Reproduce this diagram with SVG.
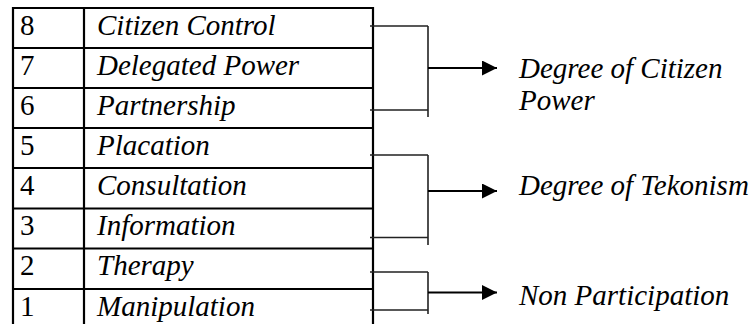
<svg xmlns="http://www.w3.org/2000/svg" width="756" height="324" viewBox="0 0 756 324">
<defs>
<marker id="ah" viewBox="0 0 10 10" refX="10" refY="5" markerWidth="15" markerHeight="15" markerUnits="userSpaceOnUse" orient="auto">
<path d="M0,0 L10,5 L0,10 Z" fill="#000"/>
</marker>
</defs>
<rect width="756" height="324" fill="#fff"/>
<g id="table" stroke="#000" stroke-width="2.2" fill="none">
<line x1="13" y1="7" x2="13" y2="324"/>
<line x1="84" y1="7" x2="84" y2="324"/>
<line x1="373" y1="7" x2="373" y2="324"/>
<line x1="12" y1="8" x2="374" y2="8"/>
<line x1="12" y1="48" x2="374" y2="48"/>
<line x1="12" y1="88" x2="374" y2="88"/>
<line x1="12" y1="128" x2="374" y2="128"/>
<line x1="12" y1="168" x2="374" y2="168"/>
<line x1="12" y1="208.5" x2="374" y2="208.5"/>
<line x1="12" y1="248.5" x2="374" y2="248.5"/>
<line x1="12" y1="289" x2="374" y2="289"/>
</g>
<g id="row8"><text style="font-family:Liberation Serif,Tinos,Times New Roman,serif" font-family="Liberation Serif, Tinos, Times New Roman, serif" font-size="29" x="20" y="35">8</text><text style="font-family:Liberation Serif,Tinos,Times New Roman,serif" font-family="Liberation Serif, Tinos, Times New Roman, serif" font-size="29" font-style="italic" x="97" y="35">Citizen Control</text></g>
<g id="row7"><text style="font-family:Liberation Serif,Tinos,Times New Roman,serif" font-family="Liberation Serif, Tinos, Times New Roman, serif" font-size="29" x="20" y="75">7</text><text style="font-family:Liberation Serif,Tinos,Times New Roman,serif" font-family="Liberation Serif, Tinos, Times New Roman, serif" font-size="29" font-style="italic" x="97" y="75">Delegated Power</text></g>
<g id="row6"><text style="font-family:Liberation Serif,Tinos,Times New Roman,serif" font-family="Liberation Serif, Tinos, Times New Roman, serif" font-size="29" x="20" y="115">6</text><text style="font-family:Liberation Serif,Tinos,Times New Roman,serif" font-family="Liberation Serif, Tinos, Times New Roman, serif" font-size="29" font-style="italic" x="97" y="115">Partnership</text></g>
<g id="row5"><text style="font-family:Liberation Serif,Tinos,Times New Roman,serif" font-family="Liberation Serif, Tinos, Times New Roman, serif" font-size="29" x="20" y="155">5</text><text style="font-family:Liberation Serif,Tinos,Times New Roman,serif" font-family="Liberation Serif, Tinos, Times New Roman, serif" font-size="29" font-style="italic" x="97" y="155">Placation</text></g>
<g id="row4"><text style="font-family:Liberation Serif,Tinos,Times New Roman,serif" font-family="Liberation Serif, Tinos, Times New Roman, serif" font-size="29" x="20" y="195">4</text><text style="font-family:Liberation Serif,Tinos,Times New Roman,serif" font-family="Liberation Serif, Tinos, Times New Roman, serif" font-size="29" font-style="italic" x="97" y="195">Consultation</text></g>
<g id="row3"><text style="font-family:Liberation Serif,Tinos,Times New Roman,serif" font-family="Liberation Serif, Tinos, Times New Roman, serif" font-size="29" x="20" y="235">3</text><text style="font-family:Liberation Serif,Tinos,Times New Roman,serif" font-family="Liberation Serif, Tinos, Times New Roman, serif" font-size="29" font-style="italic" x="97" y="235">Information</text></g>
<g id="row2"><text style="font-family:Liberation Serif,Tinos,Times New Roman,serif" font-family="Liberation Serif, Tinos, Times New Roman, serif" font-size="29" x="20" y="275">2</text><text style="font-family:Liberation Serif,Tinos,Times New Roman,serif" font-family="Liberation Serif, Tinos, Times New Roman, serif" font-size="29" font-style="italic" x="97" y="275">Therapy</text></g>
<g id="row1"><text style="font-family:Liberation Serif,Tinos,Times New Roman,serif" font-family="Liberation Serif, Tinos, Times New Roman, serif" font-size="29" x="20" y="316">1</text><text style="font-family:Liberation Serif,Tinos,Times New Roman,serif" font-family="Liberation Serif, Tinos, Times New Roman, serif" font-size="29" font-style="italic" x="97" y="316">Manipulation</text></g>
<g id="citizen-power"><text style="font-family:Liberation Serif,Tinos,Times New Roman,serif" font-family="Liberation Serif, Tinos, Times New Roman, serif" font-size="29" font-style="italic" x="519" y="78">Degree of Citizen</text><text style="font-family:Liberation Serif,Tinos,Times New Roman,serif" font-family="Liberation Serif, Tinos, Times New Roman, serif" font-size="29" font-style="italic" x="519" y="110">Power</text></g>
<g id="tokenism"><text style="font-family:Liberation Serif,Tinos,Times New Roman,serif" font-family="Liberation Serif, Tinos, Times New Roman, serif" font-size="29" font-style="italic" x="519" y="195">Degree of Tekonism</text></g>
<g id="non-participation"><text style="font-family:Liberation Serif,Tinos,Times New Roman,serif" font-family="Liberation Serif, Tinos, Times New Roman, serif" font-size="29" font-style="italic" x="519" y="305">Non Participation</text></g>
<g id="connectors">
<path stroke="#222" stroke-width="1.6" fill="none" d="M370,26 H428 M428,26 V117 M370,110 H428"/>
<path stroke="#222" stroke-width="1.6" fill="none" d="M370,155 H428 M428,155 V245 M370,237.5 H428"/>
<path stroke="#222" stroke-width="1.6" fill="none" d="M370,272 H428 M428,272 V314 M370,310 H428"/>
<line stroke="#000" stroke-width="2" x1="428" y1="68" x2="497" y2="68" marker-end="url(#ah)"/>
<line stroke="#000" stroke-width="2" x1="428" y1="191" x2="497" y2="191" marker-end="url(#ah)"/>
<line stroke="#000" stroke-width="2" x1="428" y1="292.5" x2="497" y2="292.5" marker-end="url(#ah)"/>
</g>
</svg>
